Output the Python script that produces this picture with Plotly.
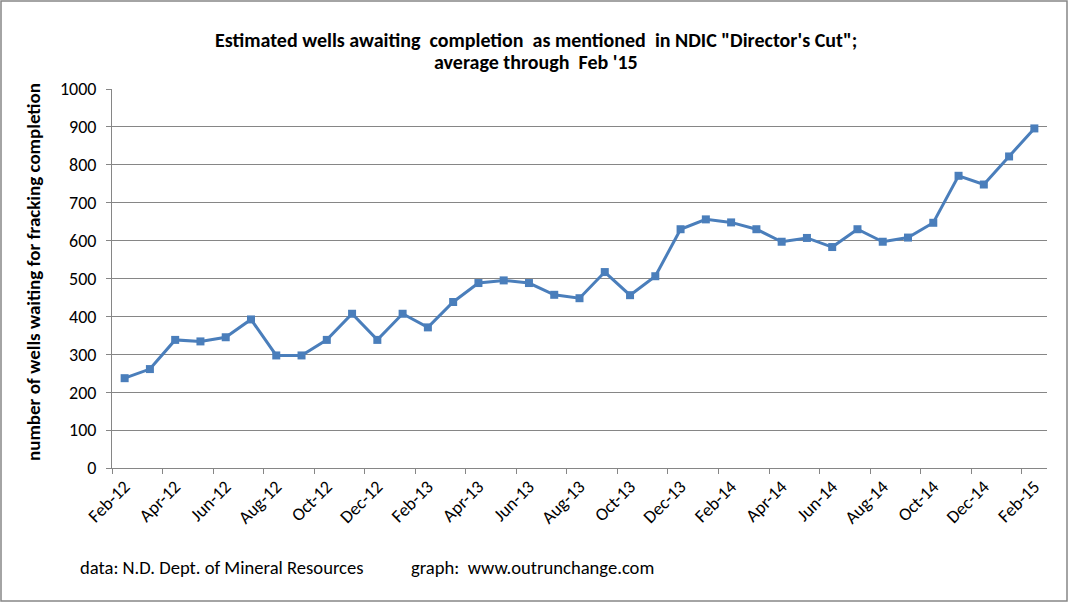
import plotly.graph_objects as go

months = ["Feb-12", "Mar-12", "Apr-12", "May-12", "Jun-12", "Jul-12", "Aug-12", "Sep-12", "Oct-12",
          "Nov-12", "Dec-12", "Jan-13", "Feb-13", "Mar-13", "Apr-13", "May-13", "Jun-13", "Jul-13",
          "Aug-13", "Sep-13", "Oct-13", "Nov-13", "Dec-13", "Jan-14", "Feb-14", "Mar-14", "Apr-14",
          "May-14", "Jun-14", "Jul-14", "Aug-14", "Sep-14", "Oct-14", "Nov-14", "Dec-14", "Jan-15",
          "Feb-15"]
wells = [237, 261, 338, 334, 345, 392, 297, 297, 338,
         407, 338, 407, 371, 438, 488, 495, 488, 457,
         448, 517, 456, 506, 630, 656, 648, 630, 597,
         607, 583, 630, 597, 608, 647, 771, 748, 822,
         896]
y_ticks = list(range(0, 1001, 100))

idx = list(range(len(months)))
label_idx = idx[::2]
label_text = months[::2]
boundary_idx = [i - 0.5 for i in idx[::2]]

W, H = 1069, 603
ml, mr, mt, mb = 112, 22, 89, 135
pw = W - ml - mr
ph = H - mt - mb

FONT = "Carlito, Calibri, 'Liberation Sans', Arial, sans-serif"
GRID = "#868686"


def px_x(x):
    return (x - ml) / pw


def px_y(y):
    return (H - mb - y) / ph


fig = go.Figure()
fig.add_trace(go.Scatter(
    x=idx, y=wells, mode="lines+markers",
    line=dict(color="#4A7EBB", width=3),
    marker=dict(symbol="square", size=8, color="#4A7EBB"),
    hoverinfo="skip", showlegend=False,
))
# invisible trace on overlay axis to carry tick marks at category boundaries
fig.add_trace(go.Scatter(x=[idx[0]], y=[wells[0]], xaxis="x2", mode="markers",
                         marker=dict(opacity=0), showlegend=False, hoverinfo="skip"))

fig.update_layout(
    width=W, height=H,
    margin=dict(l=ml, r=mr, t=mt, b=mb),
    paper_bgcolor="white", plot_bgcolor="white",
    font=dict(family=FONT, color="black", size=18),
    xaxis=dict(
        range=[-0.5, len(months) - 0.5],
        tickmode="array", tickvals=label_idx, ticktext=label_text,
        tickangle=-45, ticks="", showgrid=False, zeroline=False,
        showline=True, linecolor=GRID, linewidth=1,
        tickfont=dict(family=FONT, size=18),
    ),
    xaxis2=dict(
        overlaying="x", matches="x", side="bottom",
        range=[-0.5, len(months) - 0.5],
        tickmode="array", tickvals=boundary_idx, ticktext=["" for _ in boundary_idx],
        ticks="outside", ticklen=5, tickcolor=GRID, showgrid=False, zeroline=False,
        showline=False,
    ),
    yaxis=dict(
        range=[0, 1000], tickmode="array", tickvals=y_ticks,
        showgrid=True, gridcolor=GRID, gridwidth=1, zeroline=False,
        showline=True, linecolor=GRID, linewidth=1,
        ticks="outside", ticklen=5, tickcolor=GRID,
        ticklabelstandoff=6,
        tickfont=dict(family=FONT, size=18),
    ),
)

title_lines = ["<b>Estimated wells awaiting  completion  as mentioned  in NDIC \"Director's Cut\";</b>",
               "<b>average through  Feb '15</b>"]
for text, yc in zip(title_lines, [40, 62]):
    fig.add_annotation(text=text, xref="paper", yref="paper", x=px_x(536), y=px_y(yc),
                       xanchor="center", yanchor="middle", showarrow=False,
                       font=dict(family=FONT, size=20, color="black"))

fig.add_annotation(text="<b>number of wells waiting for fracking completion</b>", xref="paper", yref="paper",
                   x=px_x(33), y=px_y(272), xanchor="center", yanchor="middle", textangle=-90,
                   showarrow=False, font=dict(family=FONT, size=19, color="black"))

fig.add_annotation(text="data: N.D. Dept. of Mineral Resources", xref="paper", yref="paper",
                   x=px_x(78), y=px_y(567), xanchor="left", yanchor="middle",
                   showarrow=False, font=dict(family=FONT, size=18.6))
fig.add_annotation(text="graph:  www.outrunchange.com", xref="paper", yref="paper",
                   x=px_x(409), y=px_y(567), xanchor="left", yanchor="middle",
                   showarrow=False, font=dict(family=FONT, size=18.6))

# chart border
fig.add_shape(type="rect", xref="paper", yref="paper",
              x0=px_x(1), x1=px_x(W - 2),
              y0=px_y(H - 2), y1=px_y(1),
              line=dict(color="#868686", width=1.5), fillcolor="rgba(0,0,0,0)", layer="below")

fig.write_html("out.html", config={"displayModeBar": False},
               post_script="document.body.style.margin='0';document.body.style.overflow='hidden';")
